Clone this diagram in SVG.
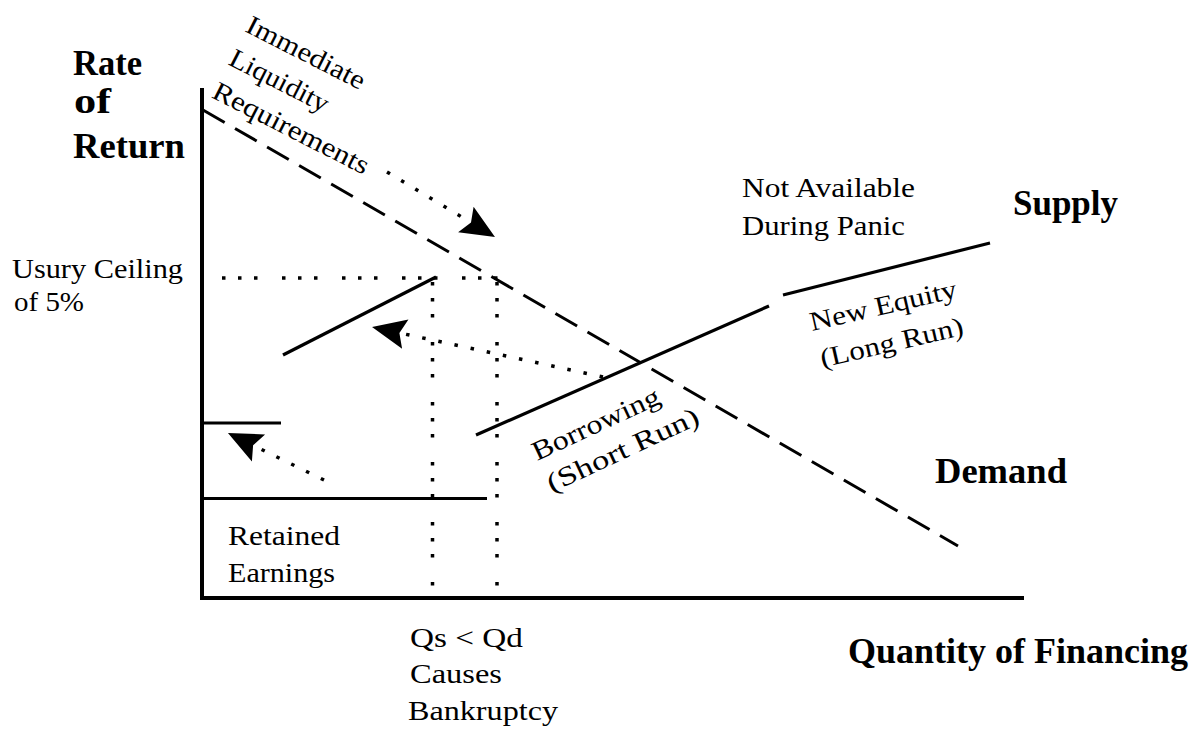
<svg xmlns="http://www.w3.org/2000/svg" width="1198" height="731" viewBox="0 0 1198 731">
<style>
.t{font-family:"Liberation Serif","Times New Roman",serif;font-size:27px;fill:#000}
.b{font-family:"Liberation Serif","Times New Roman",serif;font-size:35px;font-weight:bold;fill:#000}
.ax{stroke:#000;stroke-width:4;fill:none}
.s{stroke:#000;stroke-width:3.2;fill:none}
.dash{stroke:#000;stroke-width:3;fill:none;stroke-dasharray:25 12}
.grid{stroke:#000;stroke-width:3.5;fill:none;stroke-dasharray:3.5 12.5 3.5 12.5 3.5 24.5}
.dot{stroke:#000;stroke-width:3.5;fill:none;stroke-dasharray:3.5 13}
</style>
<defs>
<marker id="ah" markerUnits="userSpaceOnUse" markerWidth="40" markerHeight="34" viewBox="-2 -17 40 34" refX="6" refY="0" orient="auto">
<path d="M34,0 L0,-15 L6,0 L0,15 Z" fill="#000"/>
</marker>
</defs>
<rect width="1198" height="731" fill="#fff"/>
<g id="axes">
<path class="ax" d="M202,88 V600 M202,598 H1024"/>
</g>
<g id="curves">
<path id="demand" class="dash" d="M203,110 L958,546"/>
<path class="s" d="M202,498.5 H487"/>
<path class="s" d="M202,423 H281"/>
<path class="s" d="M283,355 L436,277"/>
<path class="s" d="M476,435 L769,306"/>
<path class="s" d="M783,295 L990,243"/>
</g>
<g id="connectors">
<path class="grid" d="M222,278 H502"/>
<path class="grid" d="M432.5,282 V598"/>
<path class="grid" d="M497,282 V598"/>
<path class="dot" d="M387,172 L471,222.6" marker-end="url(#ah)"/>
<path class="dot" d="M603,377 L399.4,332.9" marker-end="url(#ah)"/>
<path class="dot" d="M324,480 L253.1,445.3" marker-end="url(#ah)"/>
</g>
<g id="label-rate">
<text class="b" x="73" y="75" textLength="69" lengthAdjust="spacingAndGlyphs">Rate</text>
<text class="b" x="74" y="113" textLength="37" lengthAdjust="spacingAndGlyphs">of</text>
<text class="b" x="73" y="158" textLength="112" lengthAdjust="spacingAndGlyphs">Return</text>
</g>
<g id="label-liquidity">
<text class="t" transform="translate(244,31) rotate(27)">
<tspan x="0" y="0" textLength="130" lengthAdjust="spacingAndGlyphs">Immediate</tspan>
<tspan x="0" y="37" textLength="108" lengthAdjust="spacingAndGlyphs">Liquidity</tspan>
<tspan x="0" y="74" textLength="172" lengthAdjust="spacingAndGlyphs">Requirements</tspan>
</text>
</g>
<g id="label-usury">
<text class="t" x="12" y="278" textLength="171" lengthAdjust="spacingAndGlyphs">Usury Ceiling</text>
<text class="t" x="14" y="311" textLength="70" lengthAdjust="spacingAndGlyphs">of 5%</text>
</g>
<g id="label-notavail">
<text class="t" x="742" y="197" textLength="173" lengthAdjust="spacingAndGlyphs">Not Available</text>
<text class="t" x="742" y="235" textLength="163" lengthAdjust="spacingAndGlyphs">During Panic</text>
</g>
<g id="label-supply">
<text class="b" x="1013" y="215" textLength="105" lengthAdjust="spacingAndGlyphs">Supply</text>
</g>
<g id="label-equity">
<text class="t" transform="translate(812,331) rotate(-13)">
<tspan x="0" y="0" textLength="150" lengthAdjust="spacingAndGlyphs">New Equity</tspan>
<tspan x="2" y="38" textLength="146" lengthAdjust="spacingAndGlyphs">(Long Run)</tspan>
</text>
</g>
<g id="label-borrowing">
<text class="t" transform="translate(537,461) rotate(-25)">
<tspan x="0" y="0" textLength="138" lengthAdjust="spacingAndGlyphs">Borrowing</tspan>
<tspan x="0" y="35" textLength="165" lengthAdjust="spacingAndGlyphs">(Short Run)</tspan>
</text>
</g>
<g id="label-demand">
<text class="b" x="935" y="483" textLength="132" lengthAdjust="spacingAndGlyphs">Demand</text>
</g>
<g id="label-retained">
<text class="t" x="228" y="545" textLength="112" lengthAdjust="spacingAndGlyphs">Retained</text>
<text class="t" x="228" y="582" textLength="107" lengthAdjust="spacingAndGlyphs">Earnings</text>
</g>
<g id="label-bankruptcy">
<text class="t" x="410" y="647" textLength="113" lengthAdjust="spacingAndGlyphs">Qs &lt; Qd</text>
<text class="t" x="410" y="683" textLength="92" lengthAdjust="spacingAndGlyphs">Causes</text>
<text class="t" x="408" y="720" textLength="150" lengthAdjust="spacingAndGlyphs">Bankruptcy</text>
</g>
<g id="label-quantity">
<text class="b" x="848" y="663" textLength="340" lengthAdjust="spacingAndGlyphs">Quantity of Financing</text>
</g>
</svg>
